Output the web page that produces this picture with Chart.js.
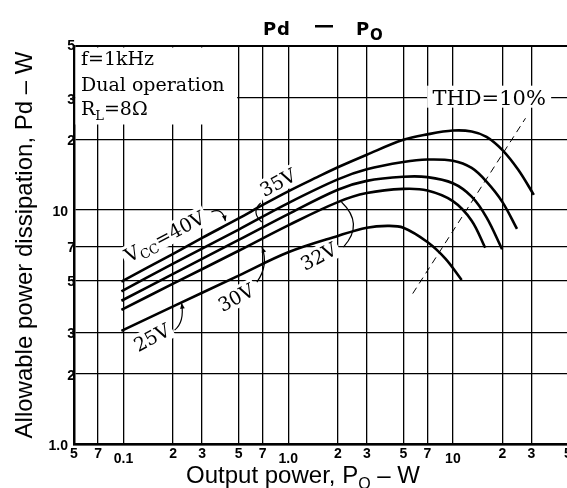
<!DOCTYPE html>
<html>
<head>
<meta charset="utf-8">
<script src="https://cdn.jsdelivr.net/npm/chart.js@4"></script>
<style>
  html, body { margin: 0; padding: 0; background: #fff; overflow: hidden; }
  #wrap { position: relative; width: 569px; height: 488px; }
</style>
</head>
<body>
<div id="wrap"><canvas id="chart"></canvas></div>
<script>
// axes
const xTicks = [0.05, 0.07, 0.1, 0.2, 0.3, 0.5, 0.7, 1, 2, 3, 5, 7, 10, 20, 30, 50];
const xTickLabels = ['5', '7', '0.1', '2', '3', '5', '7', '1.0', '2', '3', '5', '7', '10', '2', '3', '5'];
const yTicks = [1, 2, 3, 5, 7, 10, 20, 30, 50];
const yTickLabels = ['1.0', '2', '3', '5', '7', '10', '2', '3', '5'];

// Pd - Po curves, one per supply voltage
const po40 = [0.097, 0.2, 0.3, 0.5, 0.7, 1, 1.5, 2, 3, 5, 7, 10, 13, 16, 20, 25, 31];
const pd40 = [4.95, 6.5, 7.6, 9.2, 10.5, 12.0, 13.8, 15.2, 17.2, 19.9, 21.0, 21.8, 21.6, 20.5, 18.0, 14.8, 11.6];
const po35 = [0.097, 0.2, 0.5, 1, 2, 3, 5, 7, 10, 13, 16, 20, 24.5];
const pd35 = [4.5, 5.9, 8.25, 10.7, 13.5, 14.9, 16.0, 16.4, 16.2, 15.1, 13.2, 10.8, 8.3];
const po32 = [0.097, 0.2, 0.5, 1, 2, 3, 5, 7, 10, 13, 16, 19.9];
const pd32 = [4.1, 5.34, 7.45, 9.6, 12.2, 13.3, 13.85, 13.8, 13.0, 11.4, 9.3, 6.8];
const po30 = [0.097, 0.2, 0.5, 1, 2, 3, 5, 7, 10, 13, 15.7];
const pd30 = [3.75, 4.85, 6.7, 8.6, 10.8, 11.8, 12.3, 12.1, 10.9, 9.0, 6.9];
const po25 = [0.097, 0.2, 0.5, 1, 2, 3, 4, 5, 7, 9, 11.3];
const pd25 = [3.05, 3.88, 5.25, 6.6, 7.75, 8.4, 8.55, 8.4, 7.3, 6.2, 5.03];
// THD = 10% boundary
const poThd = [5.7, 27.6];
const pdThd = [4.4, 24.6];

const SANS = '"Liberation Sans", Arial, sans-serif';
const SERIF = '"DejaVu Serif", serif';
const S19 = '19px ' + SERIF;
const S13 = '13px ' + SERIF;

const pts = (xs, ys) => xs.map((x, i) => ({ x: x, y: ys[i] }));
const curve = (label, xs, ys) => ({
  label: label, data: pts(xs, ys), borderColor: '#000', borderWidth: 2.6,
  pointRadius: 0, tension: 0.35, fill: false
});

// labels on the curves, placed at (Po, Pd) with a leader line offset in px
const curveLabels = [
  { parts: [['V', S19], ['CC', S13, 4], ['=40V', S19]], at: [0.177, 7.74], angle: -28,
    leader: { p: [[47, -24], [58, -29], [61, -15]], arrow: true } },
  { parts: [['35V', S19]], at: [0.863, 13.15], angle: -28,
    leader: { p: [[-17, 21], [-27, 30], [-16, 40]], arrow: false } },
  { parts: [['32V', S19]], at: [1.526, 6.36], angle: -28,
    leader: { p: [[23, -54], [46, -32], [25, -9]], arrow: false } },
  { parts: [['30V', S19]], at: [0.481, 4.25], angle: -28,
    leader: { p: [[21, -15], [33, -32], [26, -50]], arrow: true } },
  { parts: [['25V', S19]], at: [0.148, 2.87], angle: -28,
    leader: { p: [[23, -7], [33, -15], [30, -34]], arrow: true } }
];

function partsWidth(ctx, parts) {
  let w = 0;
  parts.forEach(p => { ctx.font = p[1]; w += ctx.measureText(p[0]).width; });
  return w;
}
function drawParts(ctx, parts, x, y) {
  let cx = x;
  parts.forEach(p => {
    ctx.font = p[1];
    ctx.fillText(p[0], cx, y + (p[2] || 0));
    cx += ctx.measureText(p[0]).width;
  });
}

const overlay = {
  id: 'overlay',
  beforeDatasetsDraw(chart) {
    const ctx = chart.ctx, a = chart.chartArea;
    const xs = chart.scales.x, ys = chart.scales.y;
    ctx.save();
    ctx.fillStyle = '#fff';
    // blank area behind the condition text
    ctx.fillRect(a.left + 1.5, a.top + 1.5, xs.getPixelForValue(0.5) - a.left - 3, 77);
    // behind THD label
    ctx.fillRect(xs.getPixelForValue(16.6) - 62, ys.getPixelForValue(30.4) - 11, 124, 22);
    curveLabels.forEach(l => {
      const w = partsWidth(ctx, l.parts);
      ctx.save();
      ctx.translate(xs.getPixelForValue(l.at[0]), ys.getPixelForValue(l.at[1]));
      ctx.rotate(l.angle * Math.PI / 180);
      ctx.fillRect(-w / 2 - 3, -10, w + 6, 21);
      ctx.restore();
    });
    ctx.restore();
  },
  afterDraw(chart) {
    const ctx = chart.ctx, a = chart.chartArea;
    const xs = chart.scales.x, ys = chart.scales.y;
    ctx.save();
    ctx.fillStyle = '#000';
    ctx.strokeStyle = '#000';

    // tick labels
    ctx.font = 'bold 14px ' + SANS;
    ctx.textAlign = 'right';
    ctx.textBaseline = 'middle';
    yTicks.forEach((v, i) => {
      const y = ys.getPixelForValue(v);
      const lab = yTickLabels[i];
      ctx.fillText(lab, a.left + (lab.length > 1 ? -6 : 1), v === 50 ? y : y + 2);
    });
    ctx.textAlign = 'center';
    ctx.textBaseline = 'top';
    xTicks.forEach((v, i) => {
      const big = [0.1, 1, 10].includes(v);
      ctx.fillText(xTickLabels[i], xs.getPixelForValue(v), a.bottom + (big ? 8 : 3));
    });

    // title
    ctx.textAlign = 'left';
    ctx.textBaseline = 'alphabetic';
    ctx.font = 'bold 18px "DejaVu Sans", sans-serif';
    ctx.fillText('P', 263, 35);
    ctx.fillText('d', 277, 35);
    ctx.fillRect(315, 25, 18, 2.5);
    ctx.fillText('P', 356, 35);
    ctx.font = 'bold 15px "DejaVu Sans", sans-serif';
    ctx.fillText('O', 370, 40);

    // axis titles
    const xt = [['Output power, P', '24px ' + SANS], ['O', '16px ' + SANS, 6], [' \u2013 W', '24px ' + SANS]];
    drawParts(ctx, xt, 303 - partsWidth(ctx, xt) / 2, 483);
    ctx.save();
    ctx.translate(32, 245);
    ctx.rotate(-Math.PI / 2);
    ctx.textAlign = 'center';
    ctx.font = '24px ' + SANS;
    ctx.fillText('Allowable power dissipation, Pd \u2013 W', 0, 0);
    ctx.restore();

    // conditions
    ctx.textAlign = 'left';
    drawParts(ctx, [['f=1kHz', S19]], a.left + 7, a.top + 19);
    drawParts(ctx, [['Dual operation', S19]], a.left + 7, a.top + 45);
    drawParts(ctx, [['R', S19], ['L', S13, 5], ['=8\u03A9', S19]], a.left + 7, a.top + 69);

    // THD label
    ctx.font = '21px ' + SERIF;
    ctx.textAlign = 'center';
    ctx.fillText('THD=10%', xs.getPixelForValue(16.6), ys.getPixelForValue(30.4) + 8);

    // curve labels and leaders
    ctx.textAlign = 'left';
    curveLabels.forEach(l => {
      const cx = xs.getPixelForValue(l.at[0]), cy = ys.getPixelForValue(l.at[1]);
      ctx.save();
      ctx.translate(cx, cy);
      ctx.rotate(l.angle * Math.PI / 180);
      const w = partsWidth(ctx, l.parts);
      drawParts(ctx, l.parts, -w / 2, 7);
      ctx.restore();
      const p = l.leader.p;
      ctx.lineWidth = 1.2;
      ctx.beginPath();
      ctx.moveTo(cx + p[0][0], cy + p[0][1]);
      ctx.quadraticCurveTo(cx + p[1][0], cy + p[1][1], cx + p[2][0], cy + p[2][1]);
      ctx.stroke();
      if (l.leader.arrow) {
        const ang = Math.atan2(p[2][1] - p[1][1], p[2][0] - p[1][0]);
        const ex = cx + p[2][0], ey = cy + p[2][1];
        ctx.beginPath();
        ctx.moveTo(ex, ey);
        ctx.lineTo(ex - 6 * Math.cos(ang - 0.4), ey - 6 * Math.sin(ang - 0.4));
        ctx.lineTo(ex - 6 * Math.cos(ang + 0.4), ey - 6 * Math.sin(ang + 0.4));
        ctx.closePath();
        ctx.fill();
      }
    });
    ctx.restore();
  }
};

const gridWidth = ctx => (ctx.tick && (ctx.tick.value === 50) ? 2 : 1.3);

new Chart(document.getElementById('chart'), {
  type: 'line',
  data: {
    datasets: [
      curve('40V', po40, pd40),
      curve('35V', po35, pd35),
      curve('32V', po32, pd32),
      curve('30V', po30, pd30),
      curve('25V', po25, pd25),
      { label: 'THD=10%', data: pts(poThd, pdThd), borderColor: '#000', borderWidth: 1,
        borderDash: [7, 5], pointRadius: 0, tension: 0, fill: false }
    ]
  },
  options: {
    responsive: true,
    maintainAspectRatio: false,
    animation: false,
    layout: { padding: { left: 74, top: 46, right: 1, bottom: 43.5 } },
    plugins: { legend: { display: false }, tooltip: { enabled: false }, title: { display: false } },
    scales: {
      x: {
        type: 'logarithmic', min: 0.05, max: 50,
        afterBuildTicks: axis => { axis.ticks = xTicks.map(v => ({ value: v })); },
        ticks: { display: false },
        grid: { color: '#000', lineWidth: gridWidth, drawTicks: false },
        border: { display: true, color: '#000', width: 2.5 }
      },
      y: {
        type: 'logarithmic', min: 1, max: 50,
        afterBuildTicks: axis => { axis.ticks = yTicks.map(v => ({ value: v })); },
        ticks: { display: false },
        grid: { color: '#000', lineWidth: gridWidth, drawTicks: false },
        border: { display: true, color: '#000', width: 2.5 }
      }
    }
  },
  plugins: [overlay]
});
</script>
</body>
</html>
